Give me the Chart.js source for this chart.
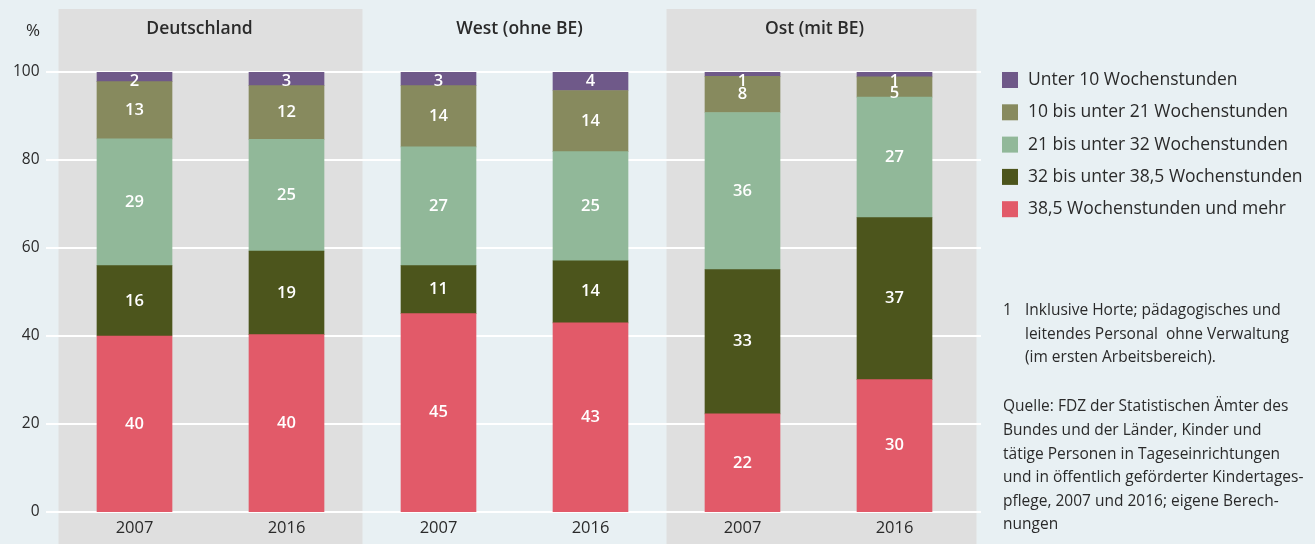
<!DOCTYPE html>
<html lang="de">
<head>
<meta charset="utf-8">
<title>Wochenstunden des Personals</title>
<script src="https://cdn.jsdelivr.net/npm/chart.js@4.4.1/dist/chart.umd.min.js"></script>
<style>
  html, body { margin: 0; padding: 0; background: #e8f0f3; }
  #wrap { width: 1315px; height: 544px; position: relative; }
</style>
</head>
<body>
<div id="wrap"><canvas id="chart"></canvas></div>
<script>
// data (percent, stacked bottom -> top)
const years = ['2007', '2016', '2007', '2016', '2007', '2016'];
const regions = ['Deutschland', 'West (ohne BE)', 'Ost (mit BE)'];
const yTicks = [0, 20, 40, 60, 80, 100];

const hours38plus = [40.0, 40.3, 45.1, 43.0, 22.3, 30.1];
const hours32to38 = [16.0, 19.0, 10.9, 14.1, 32.8, 36.8];
const hours21to32 = [28.8, 25.4, 27.0, 24.8, 35.7, 27.4];
const hours10to21 = [13.0, 12.2, 13.9, 13.9, 8.2, 4.6];
const hoursUnder10 = [2.2, 3.1, 3.1, 4.2, 1.0, 1.1];

const seriesLabels = [
  '38,5 Wochenstunden und mehr',
  '32 bis unter 38,5 Wochenstunden',
  '21 bis unter 32 Wochenstunden',
  '10 bis unter 21 Wochenstunden',
  'Unter 10 Wochenstunden'
];

const footnote = [
  'Inklusive Horte; pädagogisches und',
  'leitendes Personal  ohne Verwaltung',
  '(im ersten Arbeitsbereich).'
];
const source = [
  'Quelle: FDZ der Statistischen Ämter des',
  'Bundes und der Länder, Kinder und',
  'tätige Personen in Tageseinrichtungen',
  'und in öffentlich geförderter Kindertages-',
  'pflege, 2007 und 2016; eigene Berech-',
  'nungen'
];

const colors = ['#e25a69', '#4c551c', '#91b899', '#878a5e', '#6f5989'];
const FONT = '"Open Sans", "Noto Sans", sans-serif';
const TEXT = '#2a2a2a';

Chart.defaults.font.family = FONT;
Chart.defaults.color = TEXT;

const allSeries = [hours38plus, hours32to38, hours21to32, hours10to21, hoursUnder10];

const decor = {
  id: 'decor',
  beforeDraw(chart) {
    const { ctx, scales: { x } } = chart;
    ctx.save();
    ctx.fillStyle = '#e8f0f3';
    ctx.fillRect(0, 0, chart.width, chart.height);
    const half = (x.getPixelForValue(1) - x.getPixelForValue(0)) / 2;
    // grey panels for Deutschland and Ost
    ctx.fillStyle = '#dfdfdf';
    [0, 2].forEach(g => {
      const left = x.getPixelForValue(g * 2) - half;
      let right = x.getPixelForValue(g * 2 + 1) + half;
      if (g === 2) right += 6;
      ctx.fillRect(left, 9, right - left, chart.height - 9);
    });
    // panel titles (slightly off-centre like the original)
    const shift = [-11, 5, -4];
    ctx.fillStyle = TEXT;
    ctx.font = '600 17.5px ' + FONT;
    ctx.textAlign = 'center';
    ctx.textBaseline = 'middle';
    regions.forEach((r, g) => {
      const cx = (x.getPixelForValue(g * 2) + x.getPixelForValue(g * 2 + 1)) / 2;
      ctx.fillText(r, cx + shift[g], 29);
    });
    ctx.font = '17px ' + FONT;
    ctx.fillText('%', 33, 31);
    ctx.restore();
  },
  beforeDatasetsDraw(chart) {
    const { ctx, scales: { y } } = chart;
    ctx.save();
    ctx.strokeStyle = '#ffffff';
    ctx.lineWidth = 2;
    yTicks.forEach(v => {
      const py = Math.round(y.getPixelForValue(v));
      ctx.beginPath();
      ctx.moveTo(46, py);
      ctx.lineTo(981, py);
      ctx.stroke();
    });
    ctx.restore();
  },
  afterDatasetsDraw(chart) {
    const { ctx } = chart;
    ctx.save();
    ctx.fillStyle = '#ffffff';
    ctx.font = '600 16.5px ' + FONT;
    ctx.textAlign = 'center';
    ctx.textBaseline = 'middle';
    const n = chart.data.labels.length;
    for (let i = 0; i < n; i++) {
      let prev = null;
      for (let d = chart.data.datasets.length - 1; d >= 0; d--) {
        const bar = chart.getDatasetMeta(d).data[i];
        let ty = (bar.y + bar.base) / 2;
        if (prev === null) ty = Math.max(ty, chart.chartArea.top + 9);
        else ty = Math.max(ty, prev + 12);
        prev = ty;
        ctx.fillText(String(Math.round(chart.data.datasets[d].data[i])), bar.x, ty);
      }
    }
    ctx.restore();
  },
  afterDraw(chart) {
    const { ctx } = chart;
    ctx.save();
    // legend, top entry first
    ctx.textBaseline = 'middle';
    ctx.textAlign = 'left';
    ctx.font = '17.5px ' + FONT;
    for (let k = 0; k < seriesLabels.length; k++) {
      const d = seriesLabels.length - 1 - k;
      const cy = 80 + k * 32.3;
      ctx.fillStyle = colors[d];
      ctx.fillRect(1002, cy - 8, 16, 16);
      ctx.fillStyle = TEXT;
      ctx.fillText(seriesLabels[d], 1028, cy);
    }
    // notes
    ctx.font = '15.5px ' + FONT;
    ctx.fillText('1', 1003, 311);
    footnote.forEach((t, i) => ctx.fillText(t, 1025, 311 + i * 23.5));
    source.forEach((t, i) => ctx.fillText(t, 1003, 407 + i * 23.6));
    ctx.restore();
  }
};

new Chart(document.getElementById('chart'), {
  type: 'bar',
  data: {
    labels: years,
    datasets: allSeries.map((data, d) => ({
      label: seriesLabels[d],
      data: data,
      backgroundColor: colors[d],
      borderWidth: 0,
      barThickness: 75
    }))
  },
  options: {
    responsive: true,
    maintainAspectRatio: false,
    animation: false,
    layout: { padding: { left: 0, right: 344.5, top: 72, bottom: 0 } },
    plugins: {
      legend: { display: false },
      tooltip: { enabled: false }
    },
    scales: {
      x: {
        stacked: true,
        grid: { display: false, drawTicks: false },
        border: { display: false },
        ticks: { color: TEXT, font: { size: 16.5 }, padding: 6, maxRotation: 0, autoSkip: false },
        afterFit(s) { s.height = 32; }
      },
      y: {
        stacked: true,
        min: 0,
        max: 100,
        grid: { display: false, drawTicks: false },
        border: { display: false },
        ticks: { stepSize: 20, color: TEXT, font: { size: 15.5 }, padding: 19 },
        afterFit(s) { s.width = 58.5; }
      }
    }
  },
  plugins: [decor]
});
</script>
</body>
</html>
